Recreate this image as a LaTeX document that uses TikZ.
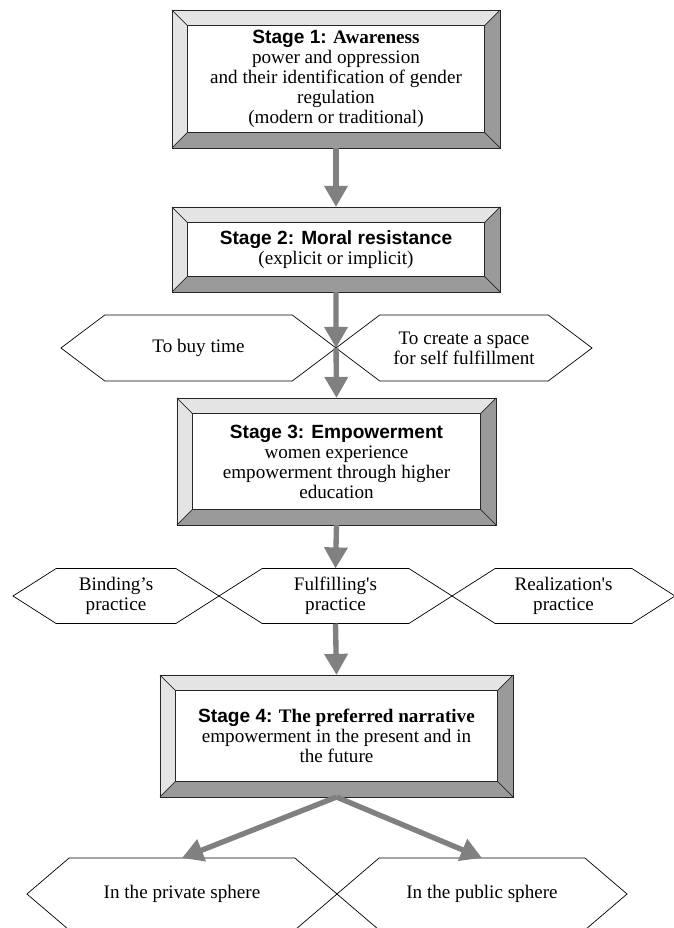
\documentclass[tikz,border=0pt]{standalone}
\usepackage{fontspec}
\setmainfont{Liberation Serif}
\newfontfamily\headfont{Liberation Sans}
\usetikzlibrary{arrows.meta,shapes.symbols}

\definecolor{bevlight}{HTML}{E4E4E4}
\definecolor{bevdark}{HTML}{9A9A9A}
\definecolor{arrowgray}{HTML}{808080}
\newcommand{\stg}[1]{{\headfont\bfseries #1}}
\newcommand{\bevw}{11.3pt}

\begin{document}
\begin{tikzpicture}[x=0.025cm, y=-0.025cm, font=\fontsize{13.6}{14.2}\selectfont,
    stagebox/.style={rectangle, draw=black!85, line width=0.6pt, fill=white,
        align=center, inner sep=0pt, outer sep=0pt,
        path picture={
            \coordinate (bnw) at (path picture bounding box.north west);
            \coordinate (bne) at (path picture bounding box.north east);
            \coordinate (bsw) at (path picture bounding box.south west);
            \coordinate (bse) at (path picture bounding box.south east);
            \coordinate (inw) at ([shift={(\bevw,-\bevw)}]bnw);
            \coordinate (ine) at ([shift={(-\bevw,-\bevw)}]bne);
            \coordinate (isw) at ([shift={(\bevw,\bevw)}]bsw);
            \coordinate (ise) at ([shift={(-\bevw,\bevw)}]bse);
            \fill[bevlight] (bnw) -- (bne) -- (ine) -- (inw) -- cycle;
            \fill[bevlight] (bnw) -- (inw) -- (isw) -- (bsw) -- cycle;
            \fill[bevdark] (bne) -- (bse) -- (ise) -- (ine) -- cycle;
            \fill[bevdark] (bsw) -- (isw) -- (ise) -- (bse) -- cycle;
            \draw[line width=0.5pt] (bnw) -- (inw) (bne) -- (ine) (bsw) -- (isw) (bse) -- (ise);
            \draw[line width=0.6pt] (inw) rectangle (ise);
        }},
    hexa/.style={signal, signal to=west and east, draw=black, line width=0.5pt,
        fill=white, align=center, inner sep=0pt, outer sep=0pt},
    flow/.style={draw=arrowgray, line width=3.8pt, -{Triangle[length=15pt,width=16pt]}}]

    \useasboundingbox (0,0) rectangle (673,928);

    % stages
    \node[stagebox, minimum width=8.2cm, minimum height=3.45cm] (awareness) at (336,79)
        {\stg{Stage 1:} \textbf{Awareness}\\power and oppression\\and their identification of gender\\regulation\\(modern or traditional)};
    \node[stagebox, minimum width=8.2cm, minimum height=2.125cm] (resistance) at (336,249.5)
        {\stg{Stage 2: Moral resistance}\\(explicit or implicit)};
    \node[stagebox, minimum width=7.975cm, minimum height=3.175cm] (empower) at (336.5,461.5)
        {\stg{Stage 3: Empowerment}\\women experience\\empowerment through higher\\education};
    \node[stagebox, minimum width=8.825cm, minimum height=3.05cm] (narrative) at (336.5,736)
        {\stg{Stage 4:} \textbf{The preferred narrative}\\empowerment in the present and in\\the future};

    % hexagons
    \node[hexa, signal pointer angle=74, minimum width=6.875cm, minimum height=1.65cm] (buytime) at (198.5,348) {To buy time};
    \node[hexa, signal pointer angle=74, minimum width=6.4cm, minimum height=1.65cm] (space) at (464,348) {To create a space\\for self fulfillment};

    \node[hexa, signal pointer angle=65, minimum width=5.15cm, minimum height=1.375cm] (binding) at (116,596) {Binding’s\\practice};
    \node[hexa, signal pointer angle=65, minimum width=5.825cm, minimum height=1.375cm] (fulfil) at (335.5,596) {Fulfilling\textquotesingle s\\practice};
    \node[hexa, signal pointer angle=65, minimum width=5.575cm, minimum height=1.375cm] (realize) at (563.5,596) {Realization\textquotesingle s\\practice};

    \node[hexa, signal pointer angle=81, minimum width=7.75cm, minimum height=1.8cm] (private) at (182,894) {In the private sphere};
    \node[hexa, signal pointer angle=81, minimum width=7.25cm, minimum height=1.8cm] (public) at (482,894) {In the public sphere};

    % arrows
    \draw[flow] (awareness.south) -- (resistance.north);
    \draw[flow] (resistance.south) -- (buytime.east);
    \draw[flow] (buytime.east) -- (empower.north);
    \draw[flow] (empower.south) -- (fulfil.north);
    \draw[flow] (fulfil.south) -- (narrative.north);
    \draw[flow] (narrative.south) -- (private.north);
    \draw[flow] (narrative.south) -- (public.north);
\end{tikzpicture}
\end{document}
